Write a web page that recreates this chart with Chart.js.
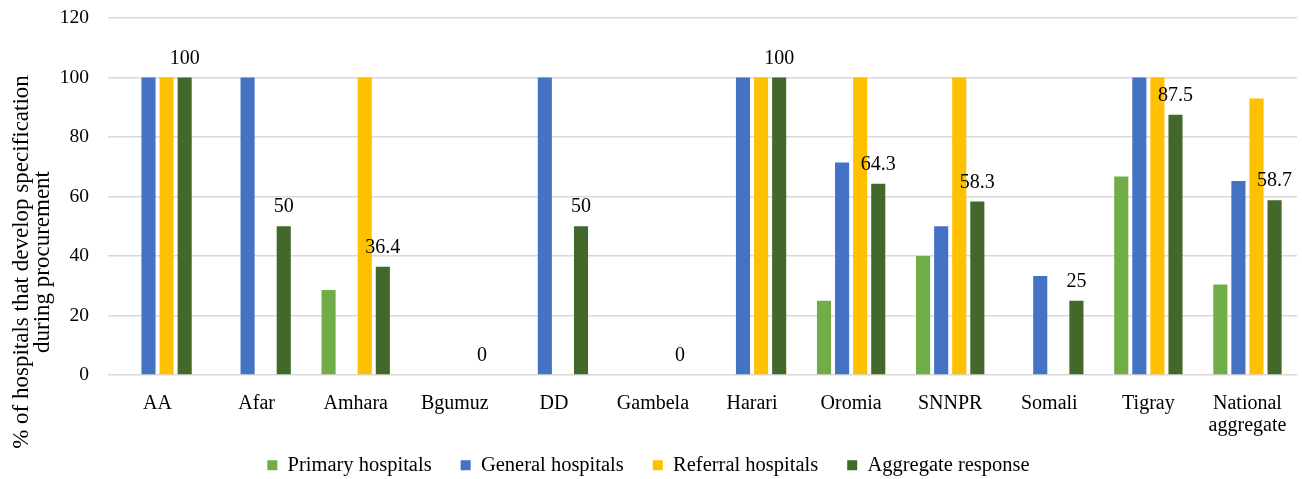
<!DOCTYPE html>
<html>
<head>
<meta charset="utf-8">
<script src="https://cdn.jsdelivr.net/npm/chart.js@4.4.0/dist/chart.umd.min.js"></script>
<style>
  html, body { margin: 0; padding: 0; background: #fff; }
  #wrap { width: 1302px; height: 479px; }
</style>
</head>
<body>
<div id="wrap"><canvas id="myChart"></canvas></div>
<script>
const regions = ['AA', 'Afar', 'Amhara', 'Bgumuz', 'DD', 'Gambela', 'Harari', 'Oromia', 'SNNPR', 'Somali', 'Tigray', ['National', 'aggregate']];
const primary = [0, 0, 28.6, 0, 0, 0, 0, 25, 40, 0, 66.7, 30.4];
const general = [100, 100, 0, 0, 100, 0, 100, 71.4, 50, 33.3, 100, 65.2];
const referral = [100, 0, 100, 0, 0, 0, 100, 100, 100, 0, 100, 92.9];
const aggregate = [100, 50, 36.4, 0, 50, 0, 100, 64.3, 58.3, 25, 87.5, 58.7];
const yTicks = [0, 20, 40, 60, 80, 100, 120];
const yTitle = ['% of hospitals that develop specification', 'during procurement'];

const serif = "'Liberation Serif', 'Times New Roman', serif";

// labels only on the aggregate series
const aggLabels = {
  id: 'aggLabels',
  afterDatasetsDraw(chart) {
    const ctx = chart.ctx;
    const meta = chart.getDatasetMeta(3);
    ctx.save();
    ctx.font = '20px ' + serif;
    ctx.fillStyle = '#000';
    ctx.textAlign = 'center';
    ctx.textBaseline = 'alphabetic';
    meta.data.forEach(function(bar, i) {
      ctx.fillText(String(aggregate[i]), bar.x, bar.y - 14);
    });
    ctx.restore();
  }
};

// axis title sits lower than the plot centre, like the original
const sideTitle = {
  id: 'sideTitle',
  afterDraw(chart) {
    const ctx = chart.ctx;
    ctx.save();
    ctx.font = '23px ' + serif;
    ctx.fillStyle = '#000';
    ctx.textAlign = 'center';
    ctx.textBaseline = 'middle';
    ctx.translate(22, 262);
    ctx.rotate(-Math.PI / 2);
    ctx.fillText(yTitle[0], 0, 0);
    ctx.fillText(yTitle[1], 0, 21);
    ctx.restore();
  }
};

// legend row overlaps the tall x label box a bit
const legendFit = {
  id: 'legendFit',
  beforeInit(chart) {
    const origFit = chart.legend.fit;
    chart.legend.fit = function() {
      origFit.bind(chart.legend)();
      this.height = 42;
    };
  },
  afterLayout(chart) {
    chart.legend.top -= 11;
  }
};

const ctx = document.getElementById('myChart');

new Chart(ctx, {
  type: 'bar',
  data: {
    labels: regions,
    datasets: [{
      label: 'Primary hospitals',
      data: primary,
      backgroundColor: '#70AD47'
    }, {
      label: 'General hospitals',
      data: general,
      backgroundColor: '#4472C4'
    }, {
      label: 'Referral hospitals',
      data: referral,
      backgroundColor: '#FFC000'
    }, {
      label: 'Aggregate response',
      data: aggregate,
      backgroundColor: '#43682B'
    }]
  },
  options: {
    responsive: true,
    maintainAspectRatio: false,
    animation: false,
    datasets: {
      bar: { categoryPercentage: 0.73, barPercentage: 0.78 }
    },
    layout: { padding: { top: 18, right: 5, left: 0, bottom: 0 } },
    plugins: {
      legend: {
        position: 'bottom',
        labels: {
          boxWidth: 10,
          boxHeight: 10,
          padding: 29,
          color: '#000',
          font: { family: serif, size: 20.5 }
        }
      },
      tooltip: { enabled: false }
    },
    scales: {
      x: {
        afterFit(axis) { axis.height = 62; },
        grid: { display: false },
        border: { display: false },
        ticks: {
          color: '#000',
          padding: 10,
          maxRotation: 0,
          font: { family: serif, size: 20, lineHeight: 1.1 }
        }
      },
      y: {
        min: 0,
        max: 120,
        afterFit(axis) {
          axis.width = 108;
          axis.paddingTop = 0;
          axis.paddingBottom = 0;
        },
        afterBuildTicks(axis) {
          axis.ticks = yTicks.map(v => ({ value: v }));
        },
        grid: { color: '#D9D9D9', lineWidth: 1.5, drawTicks: false },
        border: { display: false },
        ticks: {
          color: '#000',
          padding: 19,
          font: { family: serif, size: 19.5 }
        }
      }
    }
  },
  plugins: [aggLabels, sideTitle, legendFit]
});
</script>
</body>
</html>
